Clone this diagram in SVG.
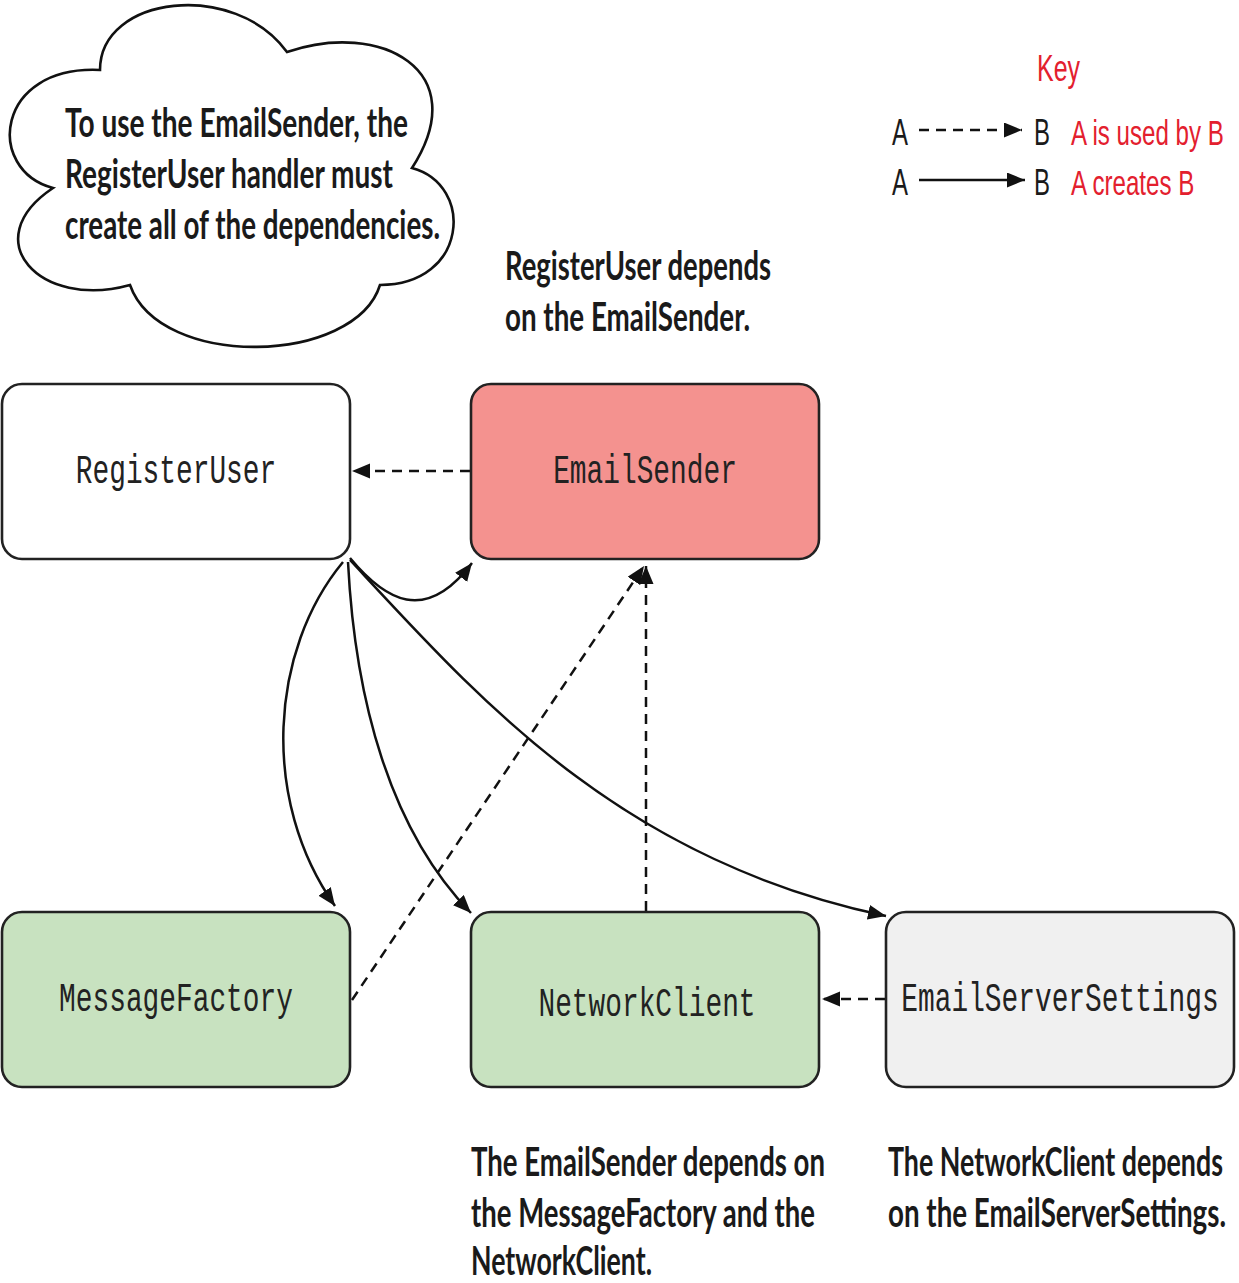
<svg xmlns="http://www.w3.org/2000/svg" width="1239" height="1283" viewBox="0 0 1239 1283">
<defs>
<style>
.node{stroke:#222;stroke-width:2.6}
.mono{font-family:"Liberation Mono","Courier New",monospace;font-size:40px;fill:#222;text-anchor:middle}
.note{font-family:Lato,"Liberation Sans",sans-serif;font-weight:bold;font-size:40px;fill:#1a1a1a}
.key{font-family:"Liberation Sans",Arial,sans-serif;font-size:36px}
.red{fill:#e3202e}
.blk{fill:#1a1a1a}
.c{fill:none;stroke:#111;stroke-width:2.5}
.d{stroke-dasharray:10 7}
</style>
<marker id="ah" markerUnits="userSpaceOnUse" markerWidth="20" markerHeight="16" refX="18" refY="7.5" orient="auto">
<path d="M0,0 L18,7.5 L0,15 Z" fill="#111"/>
</marker>
</defs>

<g id="cloud">
<path d="M100,70 C100,-5 235,-20 287,52 C380,20 475,70 412,168 C475,185 468,285 380,285 C355,365 160,370 130,285 C40,310 -25,240 53,188 C-15,170 -5,65 100,70 Z" fill="#fff" stroke="#111" stroke-width="2.6"/>
<text class="note" transform="translate(65,137) scale(0.68,1)" textLength="504.4" lengthAdjust="spacingAndGlyphs">To use the EmailSender, the</text>
<text class="note" transform="translate(65,188) scale(0.68,1)" textLength="482.4" lengthAdjust="spacingAndGlyphs">RegisterUser handler must</text>
<text class="note" transform="translate(65,239) scale(0.68,1)" textLength="551.5" lengthAdjust="spacingAndGlyphs">create all of the dependencies.</text>
</g>

<g id="key">
<text class="key red" x="1037" y="81" textLength="43" lengthAdjust="spacingAndGlyphs">Key</text>
<text class="key blk" x="892" y="145" textLength="16" lengthAdjust="spacingAndGlyphs">A</text>
<line x1="919" y1="130" x2="1022" y2="130" class="c d" marker-end="url(#ah)"/>
<text class="key blk" x="1034" y="145" textLength="16" lengthAdjust="spacingAndGlyphs">B</text>
<text class="key red" transform="translate(1071,145) scale(0.67,1)">A is used by B</text>
<text class="key blk" x="892" y="195" textLength="16" lengthAdjust="spacingAndGlyphs">A</text>
<line x1="919" y1="180" x2="1025" y2="180" class="c" marker-end="url(#ah)"/>
<text class="key blk" x="1034" y="195" textLength="16" lengthAdjust="spacingAndGlyphs">B</text>
<text class="key red" transform="translate(1071,195) scale(0.67,1)">A creates B</text>
</g>

<g id="note-registeruser">
<text class="note" transform="translate(505,280) scale(0.68,1)" textLength="391.2" lengthAdjust="spacingAndGlyphs">RegisterUser depends</text>
<text class="note" transform="translate(505,331) scale(0.68,1)" textLength="360.3" lengthAdjust="spacingAndGlyphs">on the EmailSender.</text>
</g>

<g id="note-emailsender">
<text class="note" transform="translate(471,1176) scale(0.68,1)" textLength="520.6" lengthAdjust="spacingAndGlyphs">The EmailSender depends on</text>
<text class="note" transform="translate(471,1227) scale(0.68,1)" textLength="505.9" lengthAdjust="spacingAndGlyphs">the MessageFactory and the</text>
<text class="note" transform="translate(471,1275) scale(0.68,1)" textLength="266.2" lengthAdjust="spacingAndGlyphs">NetworkClient.</text>
</g>

<g id="note-networkclient">
<text class="note" transform="translate(888,1176) scale(0.68,1)" textLength="492.6" lengthAdjust="spacingAndGlyphs">The NetworkClient depends</text>
<text class="note" transform="translate(888,1227) scale(0.68,1)" textLength="497.1" lengthAdjust="spacingAndGlyphs">on the EmailServerSettings.</text>
</g>

<g id="connectors">
<line x1="470" y1="471" x2="352" y2="471" class="c d" marker-end="url(#ah)"/>
<path d="M350,558 C385,600 425,625 472,563" class="c" marker-end="url(#ah)"/>
<path d="M343,562 C270,650 260,800 335,906" class="c" marker-end="url(#ah)"/>
<path d="M348,562 C355,700 390,830 471,913" class="c" marker-end="url(#ah)"/>
<path d="M350,560 C480,700 620,860 886,916" class="c" marker-end="url(#ah)"/>
<line x1="352" y1="1000" x2="644" y2="566" class="c d" marker-end="url(#ah)"/>
<line x1="646" y1="911" x2="646" y2="566" class="c d" marker-end="url(#ah)"/>
<line x1="885" y1="999" x2="822" y2="999" class="c d" marker-end="url(#ah)"/>
</g>

<g id="RegisterUser">
<rect x="2" y="384" width="348" height="175" rx="20" fill="#fff" class="node"/>
<text class="mono" transform="translate(176,483) scale(0.696,1)">RegisterUser</text>
</g>
<g id="EmailSender">
<rect x="471" y="384" width="348" height="175" rx="20" fill="#f4928f" class="node"/>
<text class="mono" transform="translate(645,483) scale(0.696,1)">EmailSender</text>
</g>
<g id="MessageFactory">
<rect x="2" y="912" width="348" height="175" rx="20" fill="#c8e2c0" class="node"/>
<text class="mono" transform="translate(176,1011) scale(0.696,1)">MessageFactory</text>
</g>
<g id="NetworkClient">
<rect x="471" y="912" width="348" height="175" rx="20" fill="#c8e2c0" class="node"/>
<text class="mono" transform="translate(647,1016) scale(0.696,1)">NetworkClient</text>
</g>
<g id="EmailServerSettings">
<rect x="886" y="912" width="348" height="175" rx="20" fill="#f0f0f0" class="node"/>
<text class="mono" transform="translate(1060,1011) scale(0.696,1)">EmailServerSettings</text>
</g>
</svg>
